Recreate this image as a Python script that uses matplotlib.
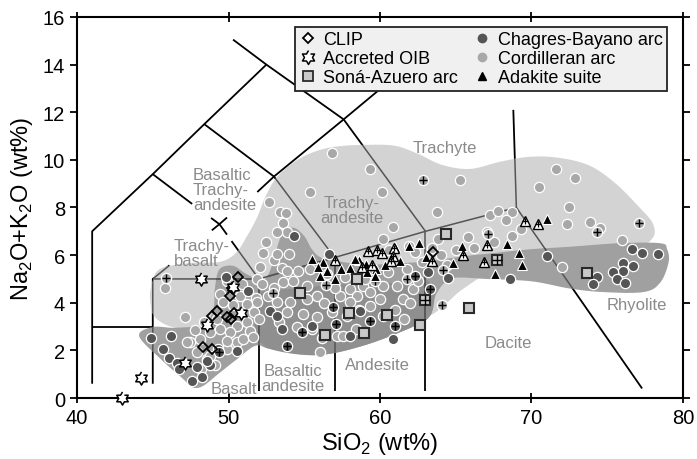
import numpy as np
import matplotlib
matplotlib.use("Agg")
import matplotlib.pyplot as plt
from matplotlib.lines import Line2D
from matplotlib.patches import Polygon

plt.rcParams["font.family"] = ["Liberation Sans", "DejaVu Sans"]
plt.rcParams["mathtext.fontset"] = "custom"
plt.rcParams["mathtext.rm"] = "Liberation Sans"

# Sample groups (SiO2, Na2O+K2O)

clip = [(50.6, 5.08), (50.25, 4.6), (50.1, 4.3), (49.25, 3.65), (48.9, 3.45), (49.9, 3.4),
        (50.15, 3.3), (50.35, 3.55), (48.3, 2.15), (48.9, 2.05), (63.5, 6.15)]

accretedOib = [(48.2, 5.0), (50.3, 4.65), (48.6, 3.05), (50.8, 3.55), (47.1, 1.45),
               (44.2, 0.85), (43.0, 0.0)]

sonaAzuero = [(64.35, 6.9), (58.5, 5.0), (54.7, 4.4), (67.75, 5.8), (62.95, 4.1), (65.9, 3.78),
              (57.95, 3.57), (60.45, 3.5), (62.65, 3.08), (56.4, 2.65), (58.95, 2.73), (73.65, 5.25)]
sonaAzueroCross = [(67.75, 5.8), (62.95, 4.1)]

chagresBayano = [(44.9, 2.5), (46.2, 2.6), (45.7, 2.06), (46.1, 1.7), (46.6, 1.45), (46.75, 1.22),
                 (47.6, 0.73), (48.23, 0.9), (47.9, 1.3), (48.78, 1.4), (49.33, 2.06), (50.54, 1.97),
                 (48.56, 1.57), (51.31, 4.5), (49.85, 5.07), (52.74, 3.67), (53.18, 3.46), (53.5, 2.9),
                 (53.84, 2.2), (54.83, 2.76), (55.49, 3.04), (56.92, 3.81), (57.1, 3.11), (58.02, 2.62),
                 (58.68, 3.67), (59.34, 3.25), (61.0, 3.04), (60.88, 2.48), (62.31, 5.11), (63.19, 5.31),
                 (63.3, 4.58), (64.51, 5.03), (68.56, 5.0), (56.66, 6.05), (54.32, 6.82), (49.4, 1.95),
                 (71.0, 5.95), (76.61, 6.26), (77.27, 6.09), (78.37, 6.05), (76.06, 5.67), (76.72, 5.56),
                 (76.06, 5.35), (75.4, 5.31), (75.62, 5.0), (76.17, 4.82), (74.3, 5.07), (74.08, 4.79)]
chagresBayanoCross = [(53.84, 2.2), (54.83, 2.76), (56.92, 3.81), (57.1, 3.11), (59.34, 3.25),
                      (61.0, 3.04), (63.3, 4.58), (49.4, 1.95), (62.31, 5.11)]

cordilleran = [(56.8, 10.3), (59.35, 9.63), (60.1, 8.64), (55.38, 8.63), (52.7, 8.25), (53.4, 7.8),
               (53.8, 7.75), (53.6, 7.35), (53.85, 6.97), (52.45, 6.55), (53.2, 6.96), (52.3, 6.1),
               (53.0, 5.8), (52.1, 5.5), (53.5, 5.45), (54.0, 6.05), (53.18, 6.05),
               (65.28, 9.14), (63.76, 7.8), (60.88, 7.18), (60.22, 6.68), (70.47, 8.84), (71.64, 9.6),
               (72.84, 9.24), (72.5, 8.01), (67.26, 7.7), (67.81, 7.87), (68.69, 7.82), (68.34, 7.47),
               (69.3, 7.1), (68.69, 6.8), (67.04, 6.96), (65.8, 6.77), (63.85, 6.68), (61.9, 6.4),
               (72.32, 7.29), (73.86, 7.39), (74.52, 7.15), (75.95, 6.65), (71.99, 5.49),
               (60.6, 6.2), (62.3, 6.15), (63.4, 6.3), (65.0, 6.2), (66.2, 6.3), (67.5, 6.55),
               (51.86, 5.0), (52.2, 4.8), (53.84, 5.35), (54.6, 5.35), (55.38, 5.42), (53.62, 4.86),
               (54.28, 4.93), (55.16, 4.72), (55.82, 4.3), (55.16, 4.16), (54.06, 4.02), (53.18, 4.02),
               (53.84, 3.6), (54.94, 3.53), (55.82, 3.39), (57.36, 4.3), (58.02, 4.58), (58.9, 4.72),
               (58.46, 4.3), (59.34, 4.44), (60.0, 4.16), (59.34, 3.88), (60.22, 4.72), (61.1, 4.72),
               (62.2, 4.58), (61.54, 4.16), (60.22, 3.46), (57.8, 3.46), (57.14, 2.62), (57.58, 2.62),
               (56.04, 1.92), (52.6, 4.3), (53.0, 4.6), (56.3, 4.0), (56.8, 3.6), (57.0, 4.6),
               (58.0, 4.05), (58.6, 3.7), (59.0, 5.0), (60.5, 5.3), (61.8, 5.4), (62.5, 4.9),
               (56.5, 5.2), (57.7, 5.1), (61.0, 3.7), (61.6, 3.3), (62.0, 4.0), (64.4, 5.6),
               (64.0, 6.0), (62.8, 5.7), (55.5, 2.9), (56.2, 2.5), (58.4, 2.9), (53.3, 3.2),
               (54.5, 3.0), (47.13, 3.39), (49.44, 4.37), (49.66, 4.02), (50.76, 4.3), (51.2, 3.95),
               (51.2, 3.18), (51.42, 2.83), (50.54, 3.04), (50.1, 2.76), (49.44, 2.9), (48.78, 2.76),
               (48.12, 2.48), (47.46, 2.34), (47.9, 1.92), (48.56, 1.64), (48.78, 1.78), (49.88, 2.06),
               (50.54, 2.34), (49.88, 2.41), (50.98, 2.48), (51.64, 2.55), (49.22, 3.32), (45.8, 4.6),
               (47.24, 2.34), (48.4, 3.2), (51.7, 3.6), (51.8, 4.2), (50.9, 4.8), (49.9, 4.9),
               (50.3, 3.9), (48.2, 1.2), (49.1, 1.4), (47.8, 2.85), (52.0, 3.3), (51.86, 4.02)]
cordilleranCross = [(45.9, 5.03), (52.96, 4.42), (56.44, 4.75), (59.67, 4.93), (61.76, 5.0),
                    (64.07, 3.91), (64.14, 5.38), (67.15, 6.9), (62.86, 9.14), (74.3, 6.99), (77.1, 7.35)]

adakite = [(55.49, 5.84), (56.22, 5.73), (57.42, 5.4), (56.48, 5.33), (57.05, 5.0), (56.05, 5.11),
           (58.64, 5.8), (58.02, 5.45), (59.17, 5.31), (59.75, 5.4), (59.67, 5.14), (61.32, 5.77),
           (61.0, 6.33), (61.9, 6.38), (62.55, 6.52), (63.04, 5.93), (65.39, 6.38), (64.84, 5.67),
           (68.4, 6.47), (69.17, 6.08), (69.4, 5.6), (67.6, 5.19), (71.0, 7.52), (59.1, 5.63),
           (58.35, 5.84), (60.3, 5.6), (55.9, 5.5)]
adakiteCross = [(57.05, 5.81), (59.2, 6.19), (59.78, 6.22), (60.15, 6.07), (60.93, 6.28), (60.88, 5.98),
                (60.7, 5.77), (58.79, 5.5), (59.45, 5.57), (63.41, 5.77), (65.5, 6.0), (67.06, 6.42),
                (66.87, 5.7), (69.6, 7.43), (70.45, 7.32)]

# Outlines of the shaded fields

cordilleranField = [(44.82, 4.16), (44.95, 4.79), (45.48, 5.42), (47.46, 5.67), (49.44, 5.72),
                    (50.5, 6.1), (51.22, 6.8), (51.9, 7.6), (52.4, 8.4), (53.1, 9.2), (54.2, 9.85),
                    (55.5, 10.3), (57.0, 10.55), (59.01, 10.63), (60.99, 10.59), (62.51, 10.25),
                    (64.09, 9.79), (65.94, 9.62), (67.92, 9.92), (69.9, 10.13), (71.88, 10.08),
                    (73.86, 9.75), (75.51, 9.03), (77.03, 8.07), (78.02, 7.31), (77.95, 6.68),
                    (76.5, 6.26), (71.22, 6.0), (67.72, 5.42), (65.48, 4.58), (64.42, 4.0),
                    (63.3, 3.46), (61.0, 2.9), (57.0, 2.35), (52.5, 2.5), (49.11, 2.8),
                    (46.47, 2.95), (45.15, 3.4)]
chagresField = [(44.1, 2.6), (45.0, 2.98), (46.5, 2.95), (48.4, 3.1), (49.0, 3.75), (49.1, 4.6),
                (49.4, 5.4), (50.3, 5.55), (51.2, 5.2), (52.3, 4.95), (52.9, 5.6), (53.2, 6.3),
                (53.6, 6.95), (54.3, 7.15), (55.0, 6.8), (55.5, 6.25), (56.1, 5.9), (57.2, 5.75),
                (59.0, 5.6), (61.1, 5.65), (63.3, 5.75), (65.5, 5.95), (67.7, 6.1), (70.0, 6.25),
                (72.5, 6.35), (75.8, 6.5), (78.5, 6.5), (78.95, 6.25), (79.05, 5.7), (78.5, 4.85),
                (77.4, 4.45), (74.7, 4.45), (72.5, 4.6), (70.0, 4.9), (67.0, 5.0), (65.0, 5.05),
                (64.2, 4.8), (63.6, 4.2), (63.3, 3.45), (62.2, 3.0), (58.9, 2.2), (55.8, 1.8),
                (52.8, 2.05), (51.8, 2.2), (50.5, 1.6), (49.4, 1.05), (48.3, 0.5), (47.6, 0.45),
                (47.0, 0.8), (45.5, 1.65)]
chagresCore = [(51.9, 4.4), (54.5, 4.6), (56.7, 4.75), (58.9, 4.8), (61.1, 4.85), (62.9, 5.0),
               (63.5, 4.6), (63.6, 4.2), (63.3, 3.45), (62.2, 3.0), (58.9, 2.2), (55.8, 1.8),
               (52.8, 2.05), (51.9, 2.6), (51.7, 3.5)]

# TAS boundaries (Le Bas et al. 1986), drawn piece by piece

tasLines = [
    [(41, 0.6), (41, 7), (45, 9.4), (48.4, 11.5), (52.5, 14), (50.3, 15.05)],
    [(52.5, 14), (57.6, 11.7), (63, 7), (69, 8), (68.8, 12.1)],
    [(51.9, 8.65), (53, 9.3), (57.6, 11.7), (61, 13.5)],
    [(41, 3), (45, 3)],
    [(45, 0.6), (45, 5), (52, 5), (57, 5.9), (63, 7)],
    [(45, 9.4), (47.6, 8.15)],
    [(48.4, 11.5), (53, 9.3), (57, 5.9)],
    [(48.85, 7.56), (49.4, 7.3), (49.9, 6.86)],
    [(48.9, 7.04), (49.4, 7.3), (49.9, 7.58)],
    [(50.2, 6.59), (52, 5)],
    [(45, 5), (46.1, 5.57)],
    [(52, 0.3), (52, 5)],
    [(57, 0.3), (57, 5.9)],
    [(63, 0.3), (63, 7)],
    [(69, 8), (77.3, 0.4)],
]

fieldLabels = [
    ("Trachyte", 64.3, 10.5, "center"),
    ("Basaltic\nTrachy-\nandesite", 47.66, 8.74, "left"),
    ("Trachy-\nandesite", 58.15, 7.88, "center"),
    ("Trachy-\nbasalt", 46.4, 6.11, "left"),
    ("Basalt", 50.33, 0.42, "center"),
    ("Basaltic\nandesite", 54.26, 0.86, "center"),
    ("Andesite", 59.83, 1.39, "center"),
    ("Dacite", 68.48, 2.35, "center"),
    ("Rhyolite", 76.93, 3.91, "center"),
]


def smoothOutline(points, steps=14):
    pts = np.array(points, dtype=float)
    n = len(pts)
    out = []
    for i in range(n):
        p0, p1, p2, p3 = pts[i - 1], pts[i], pts[(i + 1) % n], pts[(i + 2) % n]
        for t in np.linspace(0, 1, steps, endpoint=False):
            out.append(0.5 * (2 * p1 + (p2 - p0) * t + (2 * p0 - 5 * p1 + 4 * p2 - p3) * t ** 2
                              + (3 * p1 - p0 - 3 * p2 + p3) * t ** 3))
    return np.array(out)


angles = np.pi / 2 + np.arange(12) * np.pi / 6
radii = np.where(np.arange(12) % 2 == 0, 1.0, 0.577)
hexagram = list(zip(radii * np.cos(angles), radii * np.sin(angles)))

fig = plt.figure(figsize=(6.97, 4.6), dpi=100)
ax = fig.add_axes([0.1105, 0.1326, 0.8694, 0.8283])

# Fields

fieldPatches = []
for outline, colour, z in [(cordilleranField, "#d3d3d3", 1.0), (chagresField, "#a0a0a0", 1.1),
                           (chagresCore, "#8f8f8f", 1.2)]:
    patch = Polygon(smoothOutline(outline), closed=True, facecolor=colour, edgecolor="none", zorder=z)
    ax.add_patch(patch)
    fieldPatches.append(patch)

for segment in tasLines:
    xs, ys = zip(*segment)
    ax.plot(xs, ys, color="black", lw=1.3, zorder=0.5, solid_capstyle="butt")
    for patch in fieldPatches[:2]:
        line, = ax.plot(xs, ys, color="#555555", lw=1.1, zorder=1.5, solid_capstyle="butt")
        line.set_clip_path(patch)

for text, x, y, align in fieldLabels:
    ax.text(x, y, text, color="#8a8a8a", fontsize=12, ha=align, va="center",
            multialignment=align, linespacing=1.0, zorder=2)

# Samples


def scatter(points, **style):
    xs, ys = zip(*points)
    ax.plot(xs, ys, ls="none", **style)


scatter(cordilleran, marker="o", ms=7.4, mfc="#a8a8a8", mec="white", mew=0.9, zorder=3)
scatter(cordilleranCross, marker="o", ms=7.4, mfc="#a8a8a8", mec="white", mew=0.9, zorder=3)
scatter(cordilleranCross, marker="+", ms=6, mew=1.0, color="black", zorder=3.1)
scatter(chagresBayano, marker="o", ms=7.4, mfc="#555555", mec="white", mew=0.9, zorder=3.2)
scatter(chagresBayanoCross, marker="+", ms=6, mew=1.0, color="black", zorder=3.3)
scatter(adakite, marker="^", ms=7.5, mfc="black", mec="white", mew=0.8, zorder=4)
scatter(adakiteCross, marker="^", ms=7.5, mfc="white", mec="black", mew=1.0, zorder=4)
scatter(adakiteCross, marker="+", ms=4.5, mew=0.9, color="black", zorder=4.1)
scatter(sonaAzuero, marker="s", ms=7.2, mfc="#c8c8c8", mec="#2a2a2a", mew=1.5, zorder=4.2)
scatter(sonaAzueroCross, marker="+", ms=6.5, mew=1.0, color="black", zorder=4.3)
scatter(clip, marker="D", ms=5.2, mfc="none", mec="black", mew=1.3, zorder=4.4)
scatter(accretedOib, marker=hexagram, ms=9.5, mfc="white", mec="black", mew=1.1, zorder=4.5,
        clip_on=False)

# Axes

ax.set_xlim(40, 80)
ax.set_ylim(0, 16)
ax.set_xticks(np.arange(40, 81, 10))
ax.set_yticks(np.arange(0, 17, 2))
ax.tick_params(labelsize=14.5, width=1.3, length=5, top=True, right=True)
ax.tick_params(axis="x", which="both", direction="inout", length=7)
ax.tick_params(axis="y", which="both", direction="out")
for spine in ax.spines.values():
    spine.set_linewidth(1.5)
ax.set_xlabel(r"SiO$_2$ (wt%)", fontsize=17, labelpad=2)
ax.set_ylabel(r"Na$_2$O+K$_2$O (wt%)", fontsize=17, labelpad=6)

handles = [
    Line2D([], [], ls="none", marker="D", ms=5, mfc="white", mec="black", mew=1.3),
    Line2D([], [], ls="none", marker=hexagram, ms=10, mfc="white", mec="black", mew=1.1),
    Line2D([], [], ls="none", marker="s", ms=7, mfc="#c8c8c8", mec="#2a2a2a", mew=1.3),
    Line2D([], [], ls="none", marker="o", ms=6, mfc="#555555", mec="#555555"),
    Line2D([], [], ls="none", marker="o", ms=6, mfc="#a8a8a8", mec="#a8a8a8"),
    Line2D([], [], ls="none", marker="^", ms=6, mfc="black", mec="black"),
]
labels = ["CLIP", "Accreted OIB", "Soná-Azuero arc", "Chagres-Bayano arc", "Cordilleran arc",
          "Adakite suite"]
legend = ax.legend(handles, labels, ncol=2, loc="upper left", bbox_to_anchor=(0.36, 0.974),
                   borderaxespad=0, fontsize=13, frameon=True, fancybox=False, framealpha=1,
                   facecolor="#f0f0f0", edgecolor="#222222", handlelength=0.9, handletextpad=0.4,
                   labelspacing=0.1, columnspacing=0.9, borderpad=0.25)
legend.get_frame().set_linewidth(1.3)
legend.set_zorder(10)

fig.savefig("out.png", dpi=100)
